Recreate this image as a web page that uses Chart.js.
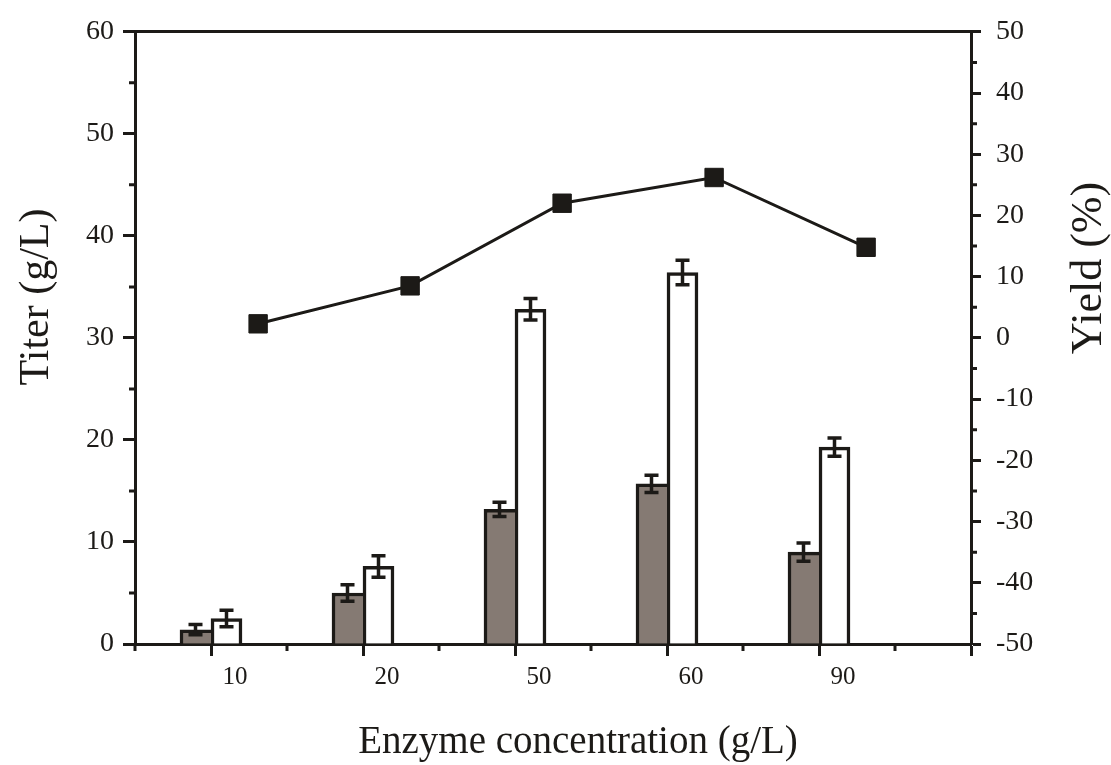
<!DOCTYPE html>
<html>
<head>
<meta charset="utf-8">
<title>Titer and yield vs enzyme concentration</title>
<script src="https://cdn.jsdelivr.net/npm/chart.js@4.4.1/dist/chart.umd.min.js"></script>
<style>
  html, body { margin: 0; padding: 0; background: #fff; }
  #wrap { width: 1111px; height: 765px; }
</style>
</head>
<body>
<div id="wrap"><canvas id="chart" width="1111" height="765"></canvas></div>
<script>
// data
const categories = ['10', '20', '50', '60', '90'];
const titerGray = [1.4, 5.0, 13.2, 15.7, 9.0];
const titerGrayErr = [0.5, 0.8, 0.7, 0.85, 0.9];
const titerWhite = [2.5, 7.6, 32.8, 36.4, 19.3];
const titerWhiteErr = [0.8, 1.05, 1.05, 1.2, 0.9];
const yieldPct = [2.3, 8.5, 22.0, 26.2, 14.8];

const xTitle = 'Enzyme concentration (g/L)';
const yTitle = 'Titer (g/L)';
const y2Title = 'Yield (%)';

const ink = '#1c1a17';
const serif = '"Liberation Serif", "Times New Roman", serif';
const lineOffset = 0.62; // yield points sit right of each category tick

// category i lives at x = 2i + 1 on a 0..11 linear axis
const barPoints = vals => vals.map((v, i) => ({ x: 2 * i + 1, y: v }));

// error bars, minor ticks and axis titles
const extras = {
    id: 'extras',
    afterDatasetsDraw(chart) {
        const ctx = chart.ctx;
        const y = chart.scales.y;
        ctx.save();
        ctx.strokeStyle = ink;
        ctx.lineWidth = 3.5;
        chart.data.datasets.forEach((ds, di) => {
            if (!ds.errors) return;
            chart.getDatasetMeta(di).data.forEach((bar, i) => {
                const v = ds.data[i].y, e = ds.errors[i];
                const top = y.getPixelForValue(v + e);
                const bot = y.getPixelForValue(v - e);
                const cx = bar.x;
                ctx.beginPath();
                ctx.moveTo(cx, top); ctx.lineTo(cx, bot);
                ctx.moveTo(cx - 7, top); ctx.lineTo(cx + 7, top);
                ctx.moveTo(cx - 7, bot); ctx.lineTo(cx + 7, bot);
                ctx.stroke();
            });
        });
        ctx.restore();
    },
    afterDraw(chart) {
        const ctx = chart.ctx;
        const { x, y, y2 } = chart.scales;
        const area = chart.chartArea;
        ctx.save();
        ctx.strokeStyle = ink;
        ctx.lineWidth = 3;
        ctx.beginPath();
        for (let v = 0; v <= 10; v += 2) {
            const px = x.getPixelForValue(v);
            ctx.moveTo(px, area.bottom); ctx.lineTo(px, area.bottom + 7);
        }
        for (let v = 5; v < 60; v += 10) {
            const py = y.getPixelForValue(v);
            ctx.moveTo(area.left - 6, py); ctx.lineTo(area.left, py);
        }
        for (let v = -45; v < 50; v += 10) {
            const py = y2.getPixelForValue(v);
            ctx.moveTo(area.right, py); ctx.lineTo(area.right + 6, py);
        }
        ctx.stroke();

        ctx.fillStyle = ink;
        ctx.textAlign = 'center';
        ctx.textBaseline = 'alphabetic';
        ctx.font = '39px ' + serif;
        ctx.fillText(xTitle, 578, 753);

        ctx.textBaseline = 'middle';
        ctx.font = '42px ' + serif;
        ctx.save();
        ctx.translate(37, 297);
        ctx.rotate(-Math.PI / 2);
        ctx.fillText(yTitle, 0, 0);
        ctx.restore();
        ctx.font = '44px ' + serif;
        ctx.save();
        ctx.translate(1089, 268);
        ctx.rotate(-Math.PI / 2);
        ctx.fillText(y2Title, 0, 0);
        ctx.restore();
        ctx.restore();
    }
};

const xTickFont = { family: serif, size: 25 };
const yTickFont = { family: serif, size: 28 };

new Chart(document.getElementById('chart'), {
    type: 'bar',
    data: {
        datasets: [{
            type: 'line',
            label: 'Yield',
            data: yieldPct.map((v, i) => ({ x: 2 * i + 1 + lineOffset, y: v })),
            yAxisID: 'y2',
            borderColor: ink,
            borderWidth: 3,
            pointStyle: 'rect',
            pointRadius: 13,
            pointBackgroundColor: ink,
            pointBorderColor: ink,
            pointBorderWidth: 1,
            order: 0
        }, {
            label: 'Titer A',
            data: barPoints(titerGray),
            errors: titerGrayErr,
            backgroundColor: '#857a73',
            borderColor: ink,
            borderWidth: { top: 3.5, left: 3.5, right: 0, bottom: 0 },
            barThickness: 31,
            yAxisID: 'y',
            order: 1
        }, {
            label: 'Titer B',
            data: barPoints(titerWhite),
            errors: titerWhiteErr,
            backgroundColor: '#ffffff',
            borderColor: ink,
            borderWidth: { top: 3.5, left: 3.5, right: 3.5, bottom: 0 },
            barThickness: 31,
            yAxisID: 'y',
            order: 1
        }]
    },
    options: {
        responsive: false,
        animation: false,
        layout: { padding: { top: 28, left: 0, right: 0, bottom: 0 } },
        plugins: {
            legend: { display: false },
            tooltip: { enabled: false }
        },
        scales: {
            x: {
                type: 'linear',
                min: 0,
                max: 11,
                offset: false,
                afterBuildTicks: s => { s.ticks = [1, 3, 5, 7, 9, 11].map(v => ({ value: v })); },
                afterFit: s => { s.height = 121; },
                ticks: {
                    color: ink,
                    font: xTickFont,
                    padding: 6,
                    labelOffset: 24,
                    maxRotation: 0,
                    callback: v => categories[(v - 1) / 2] || ''
                },
                grid: { offset: false, drawOnChartArea: false, tickLength: 12, tickWidth: 3, tickColor: ink },
                border: { color: ink, width: 3 }
            },
            xTop: {
                type: 'linear',
                position: 'top',
                min: 0,
                max: 11,
                offset: false,
                afterFit: s => { s.height = 0; },
                ticks: { display: false },
                grid: { drawOnChartArea: false, drawTicks: false },
                border: { color: ink, width: 3 }
            },
            y: {
                position: 'left',
                min: 0,
                max: 60,
                afterFit: s => { s.width = 135; },
                ticks: { stepSize: 10, color: ink, font: yTickFont, padding: 9 },
                grid: { drawOnChartArea: false, tickLength: 12, tickWidth: 3, tickColor: ink },
                border: { color: ink, width: 3 }
            },
            y2: {
                position: 'right',
                min: -50,
                max: 50,
                afterFit: s => { s.width = 140; },
                ticks: { stepSize: 10, color: ink, font: yTickFont, padding: 15 },
                grid: { drawOnChartArea: false, tickLength: 10, tickWidth: 3, tickColor: ink },
                border: { color: ink, width: 3 }
            }
        }
    },
    plugins: [extras]
});
</script>
</body>
</html>
